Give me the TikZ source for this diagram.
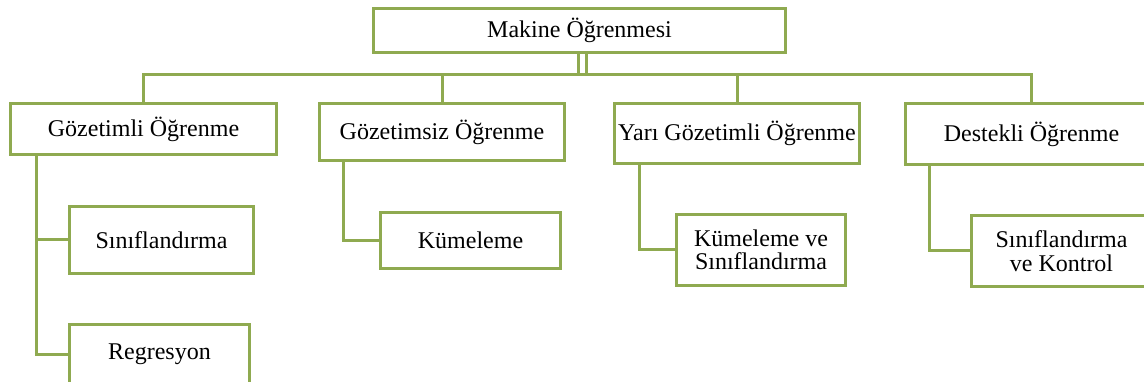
\documentclass[tikz,border=0pt]{standalone}
\usepackage{fontspec}
\setmainfont{Liberation Serif}
\definecolor{olive}{RGB}{143,170,80}
\begin{document}
\begin{tikzpicture}[x=1pt,y=-1pt,
  box/.style={draw=olive, line width=3pt, fill=white, rectangle, inner sep=0pt,
    anchor=north west, align=center, font=\fontsize{24}{23.5}\selectfont},
  link/.style={draw=olive, line width=3pt}]
\path[use as bounding box, clip] (0,0) rectangle (1144,382);
\fill[white] (0,0) rectangle (1144,382);
% level 0
\node[box, minimum width=412pt, minimum height=44pt] (top) at (372,7) {Makine Öğrenmesi};
% level 1
\node[box, minimum width=266pt, minimum height=51pt] (g1) at (9,102) {Gözetimli Öğrenme};
\node[box, minimum width=245pt, minimum height=57pt] (g2) at (318,102) {Gözetimsiz Öğrenme};
\node[box, minimum width=245pt, minimum height=60pt] (g3) at (613,102) {Yarı Gözetimli Öğrenme};
\node[box, minimum width=252pt, minimum height=61pt] (g4) at (904,102) {Destekli Öğrenme};
% level 2
\node[box, minimum width=184pt, minimum height=67pt] (c1) at (68,205) {Sınıflandırma};
\node[box, minimum width=180pt, minimum height=60pt] (c2) at (68,323) {Regresyon};
\node[box, minimum width=180pt, minimum height=56pt] (c3) at (379,211) {Kümeleme};
\node[box, minimum width=169pt, minimum height=71pt] (c4) at (675,213) {Kümeleme ve\\Sınıflandırma};
\node[box, minimum width=180pt, minimum height=71pt] (c5) at (970,214) {Sınıflandırma\\ve Kontrol};
% bus
\coordinate (bus) at (0,75);
\draw[link] ([xshift=-1pt]top.south) -- ([xshift=-1pt]top.south |- bus);
\draw[link] ([xshift=7pt]top.south) -- ([xshift=7pt]top.south |- bus);
\draw[link] (g1.north) -- (g1.north |- bus) -- (g4.north |- bus) -- (g4.north);
\draw[link] (g2.north) -- (g2.north |- bus);
\draw[link] (g3.north) -- (g3.north |- bus);
% children
\draw[link] ([xshift=27pt]g1.south west) |- (c1.west);
\draw[link] ([xshift=27pt]g1.south west) |- (c2.west);
\draw[link] ([xshift=25pt]g2.south west) |- (c3.west);
\draw[link] ([xshift=26pt]g3.south west) |- (c4.west);
\draw[link] ([xshift=25pt]g4.south west) |- (c5.west);
\end{tikzpicture}
\end{document}
